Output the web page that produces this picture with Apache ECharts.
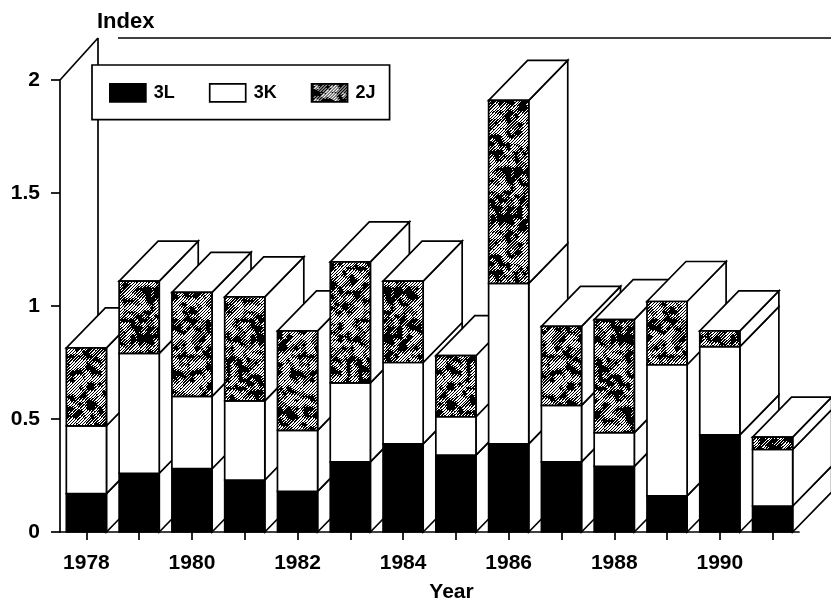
<!DOCTYPE html>
<html>
<head>
<meta charset="utf-8">
<style>
html, body { margin: 0; padding: 0; background: #fff; }
#chart { width: 831px; height: 602px; }
</style>
<script src="https://cdn.jsdelivr.net/npm/echarts@6/dist/echarts.min.js"></script>
</head>
<body>
<div id="chart"></div>
<script>
const years = ['1978', '1979', '1980', '1981', '1982', '1983', '1984', '1985', '1986', '1987', '1988', '1989', '1990', '1991'];
const values3L = [0.17, 0.26, 0.28, 0.23, 0.18, 0.31, 0.39, 0.34, 0.39, 0.31, 0.29, 0.16, 0.43, 0.115];
const values3K = [0.30, 0.53, 0.32, 0.35, 0.27, 0.35, 0.36, 0.17, 0.71, 0.25, 0.15, 0.58, 0.39, 0.25];
const values2J = [0.345, 0.32, 0.46, 0.46, 0.44, 0.535, 0.36, 0.27, 0.81, 0.35, 0.50, 0.28, 0.07, 0.055];
const yTicks = [0, 0.5, 1, 1.5, 2];

const fontName = '"Liberation Sans", Arial, sans-serif';
const depthX = 39;
const depthY = 40;
const lineW = 1.7;

// speckled hatch used for the 2J fill, a fixed tile made from a hash so it stays the same every run
function makeHatch() {
    const size = 120;
    const cell = 4;
    const cells = size / cell;
    const hash = function (x, y) {
        const s = Math.sin(((x + cells) % cells) * 12.9898 + ((y + cells) % cells) * 78.233) * 43758.5453;
        return s - Math.floor(s);
    };
    const smooth = function (x, y) {
        const cx = Math.floor(x / cell);
        const cy = Math.floor(y / cell);
        const fx = x / cell - cx;
        const fy = y / cell - cy;
        const top = hash(cx, cy) * (1 - fx) + hash(cx + 1, cy) * fx;
        const bot = hash(cx, cy + 1) * (1 - fx) + hash(cx + 1, cy + 1) * fx;
        return top * (1 - fy) + bot * fy;
    };
    const c = document.createElement('canvas');
    c.width = size;
    c.height = size;
    const ctx = c.getContext('2d');
    ctx.fillStyle = '#000';
    ctx.fillRect(0, 0, size, size);
    ctx.fillStyle = '#fff';
    for (let y = 0; y < size; y++) {
        for (let x = 0; x < size; x++) {
            const n = smooth(x, y);
            const stripe = (x + y) % 3 === 0;
            const wide = (x + y) % 3 < 2;
            if ((stripe && n > 0.35) || (wide && n > 0.58)) {
                ctx.fillRect(x, y, 1, 1);
            }
        }
    }
    return c;
}

const hatch = { image: makeHatch(), repeat: 'repeat' };

function stackSeries(name, values, below, fill, isTop) {
    return {
        name: name,
        type: 'custom',
        coordinateSystem: 'cartesian2d',
        itemStyle: { color: fill === hatch ? '#555' : fill },
        data: values.map(function (v, i) { return [years[i], v]; }),
        renderItem: function (params, api) {
            const i = params.dataIndex;
            const base = below.reduce(function (s, arr) { return s + arr[i]; }, 0);
            const bottom = api.coord([i, base]);
            const top = api.coord([i, base + values[i]]);
            const w = api.size([1, 0])[0] * 0.76;
            const xl = bottom[0] - w / 2;
            const xr = bottom[0] + w / 2;
            const line = { stroke: '#000', lineWidth: lineW };
            const children = [
                {
                    type: 'polygon',
                    z2: i * 10,
                    shape: { points: [[xr, bottom[1]], [xr, top[1]], [xr + depthX, top[1] - depthY], [xr + depthX, bottom[1] - depthY]] },
                    style: Object.assign({ fill: '#fff' }, line)
                },
                {
                    type: 'rect',
                    z2: i * 10 + 2,
                    shape: { x: xl, y: top[1], width: w, height: bottom[1] - top[1] },
                    style: Object.assign({ fill: fill }, line)
                }
            ];
            if (isTop) {
                children.push({
                    type: 'polygon',
                    z2: i * 10 + 1,
                    shape: { points: [[xl, top[1]], [xr, top[1]], [xr + depthX, top[1] - depthY], [xl + depthX, top[1] - depthY]] },
                    style: Object.assign({ fill: '#fff' }, line)
                });
            }
            return { type: 'group', children: children };
        }
    };
}

// back wall and the left wall edge
const wallSeries = {
    type: 'custom',
    coordinateSystem: 'cartesian2d',
    z: 1,
    silent: true,
    data: [[years[0], yTicks[4]]],
    renderItem: function (params, api) {
        const sys = params.coordSys;
        const topPt = api.coord([0, yTicks[4]]);
        const bottomPt = api.coord([0, yTicks[0]]);
        const xb = sys.x + depthX - 1;
        const yb = topPt[1] - depthY - 2;
        const line = { stroke: '#000', lineWidth: lineW, fill: 'none' };
        return {
            type: 'group',
            children: [
                { type: 'line', shape: { x1: sys.x, y1: topPt[1], x2: xb, y2: yb }, style: line },
                { type: 'line', shape: { x1: xb, y1: yb, x2: xb, y2: bottomPt[1] - depthY }, style: line },
                { type: 'line', shape: { x1: xb + 20, y1: yb, x2: 831, y2: yb }, style: line }
            ]
        };
    }
};

const chart = echarts.init(document.getElementById('chart'), null, { renderer: 'canvas' });

chart.setOption({
    backgroundColor: '#fff',
    animation: false,
    textStyle: { fontFamily: fontName },
    grid: { left: 60, top: 80, width: 739, height: 452, outerBoundsMode: 'none' },
    legend: {
        left: 92,
        top: 65,
        padding: [18, 14, 17, 17],
        backgroundColor: '#fff',
        borderColor: '#000',
        borderWidth: lineW,
        borderRadius: 0,
        itemWidth: 36,
        itemHeight: 18,
        itemGap: 34,
        selectedMode: false,
        z: 5,
        textStyle: { fontFamily: fontName, fontSize: 18, fontWeight: 'bold', color: '#000', padding: [0, 0, 0, 3] },
        data: [
            { name: '3L', icon: 'rect', itemStyle: { color: '#000', borderColor: '#000', borderWidth: lineW } },
            { name: '3K', icon: 'rect', itemStyle: { color: '#fff', borderColor: '#000', borderWidth: lineW } },
            { name: '2J', icon: 'rect', itemStyle: { color: hatch, borderColor: '#000', borderWidth: lineW } }
        ]
    },
    xAxis: {
        type: 'category',
        data: years,
        boundaryGap: true,
        name: 'Year',
        nameLocation: 'middle',
        nameGap: 50,
        nameTextStyle: { fontFamily: fontName, fontSize: 21, fontWeight: 'bold', color: '#000', padding: [0, 0, 0, 44] },
        axisLine: { lineStyle: { color: '#000', width: lineW } },
        axisTick: { show: true, alignWithLabel: true, interval: 0, length: 8, lineStyle: { color: '#000', width: lineW } },
        axisLabel: { interval: 1, margin: 21, fontFamily: fontName, fontSize: 21, fontWeight: 'bold', color: '#000' },
        splitLine: { show: false }
    },
    yAxis: {
        type: 'value',
        min: 0,
        max: 2,
        interval: 0.5,
        name: 'Index',
        nameLocation: 'end',
        nameGap: 47,
        nameTextStyle: { fontFamily: fontName, fontSize: 22, fontWeight: 'bold', color: '#000', align: 'left', padding: [0, 0, 0, 37] },
        axisLine: { show: true, lineStyle: { color: '#000', width: lineW } },
        axisTick: { show: true, length: 9, lineStyle: { color: '#000', width: lineW } },
        axisLabel: { margin: 20, fontFamily: fontName, fontSize: 21, fontWeight: 'bold', color: '#000' },
        splitLine: { show: false }
    },
    series: [
        wallSeries,
        stackSeries('3L', values3L, [], '#000', false),
        stackSeries('3K', values3K, [values3L], '#fff', false),
        stackSeries('2J', values2J, [values3L, values3K], hatch, true)
    ]
});
</script>
</body>
</html>
